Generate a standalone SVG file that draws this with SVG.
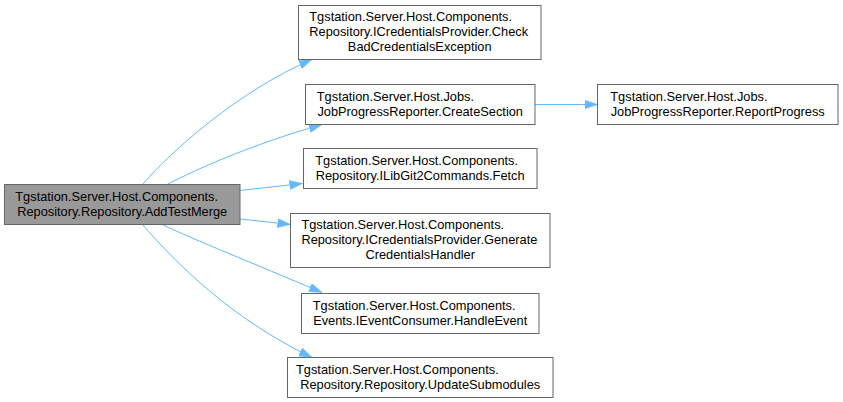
<svg xmlns="http://www.w3.org/2000/svg" width="843" height="402" viewBox="0 0 843 402">
  <style>
    .node rect { fill: #ffffff; stroke: #666666; stroke-width: 1; }
    .node.root rect { fill: #999999; }
    .node text { font-family: "Liberation Sans", Arial, Helvetica, sans-serif; font-size: 12.8px; fill: #000000; }
    .l { text-anchor: start; }
    .c { text-anchor: middle; }
    .edge path { fill: none; stroke: #63b8ff; stroke-width: 1; }
  </style>
  <defs>
    <marker id="arrow" markerUnits="userSpaceOnUse" markerWidth="14" markerHeight="10" refX="13" refY="4.5" orient="auto">
      <path d="M0,0 L13,4.5 L0,9 Z" fill="#63b8ff" stroke="#63b8ff" stroke-width="0.5"/>
    </marker>
  </defs>

  <rect width="843" height="402" fill="#ffffff"/>

  <!-- connectors -->
  <g id="edges" class="edge">
    <path d="M143,184 C170,152 240,90 312,59.5" marker-end="url(#arrow)"/>
    <path d="M168,184 C195,170 250,145 322,124.5" marker-end="url(#arrow)"/>
    <path d="M240,190.5 L302.5,183.5" marker-end="url(#arrow)"/>
    <path d="M240,219 L290.5,224.5" marker-end="url(#arrow)"/>
    <path d="M163,225 C195,240 250,262 322,292.5" marker-end="url(#arrow)"/>
    <path d="M142,224 C175,262 230,318 312,357.5" marker-end="url(#arrow)"/>
    <path d="M535,104.5 L597.5,104.5" marker-end="url(#arrow)"/>
  </g>

  <!-- AddTestMerge (root) -->
  <g id="node-addtestmerge" class="node root">
    <rect x="4.5" y="184.5" width="235.5" height="40"/>
    <text class="l" x="15.3" y="200.8">Tgstation.Server.Host.Components.</text>
    <text class="c" x="122.2" y="215.8">Repository.Repository.AddTestMerge</text>
  </g>

  <!-- ICredentialsProvider.CheckBadCredentialsException -->
  <g id="node-checkbadcredentials" class="node">
    <rect x="298.5" y="5.5" width="242.5" height="54"/>
    <text class="l" x="309.3" y="21">Tgstation.Server.Host.Components.</text>
    <text class="l" x="309.3" y="36">Repository.ICredentialsProvider.Check</text>
    <text class="c" x="419.7" y="51">BadCredentialsException</text>
  </g>

  <!-- JobProgressReporter.CreateSection -->
  <g id="node-createsection" class="node">
    <rect x="305.5" y="84.5" width="229.5" height="40"/>
    <text class="l" x="316.8" y="100.8">Tgstation.Server.Host.Jobs.</text>
    <text class="c" x="420.2" y="115.8">JobProgressReporter.CreateSection</text>
  </g>

  <!-- JobProgressReporter.ReportProgress -->
  <g id="node-reportprogress" class="node">
    <rect x="597.5" y="84.5" width="240.5" height="40"/>
    <text class="l" x="610.3" y="100.8">Tgstation.Server.Host.Jobs.</text>
    <text class="c" x="717.7" y="115.8">JobProgressReporter.ReportProgress</text>
  </g>

  <!-- ILibGit2Commands.Fetch -->
  <g id="node-fetch" class="node">
    <rect x="303.5" y="148.5" width="233.5" height="40"/>
    <text class="l" x="315.3" y="164.8">Tgstation.Server.Host.Components.</text>
    <text class="c" x="420.2" y="179.8">Repository.ILibGit2Commands.Fetch</text>
  </g>

  <!-- ICredentialsProvider.GenerateCredentialsHandler -->
  <g id="node-generatecredentials" class="node">
    <rect x="290.5" y="213.5" width="259.5" height="54"/>
    <text class="l" x="301.4" y="229">Tgstation.Server.Host.Components.</text>
    <text class="l" x="301.4" y="244">Repository.ICredentialsProvider.Generate</text>
    <text class="c" x="420.2" y="259">CredentialsHandler</text>
  </g>

  <!-- IEventConsumer.HandleEvent -->
  <g id="node-handleevent" class="node">
    <rect x="301.5" y="293.5" width="237.5" height="40"/>
    <text class="l" x="312.8" y="309.8">Tgstation.Server.Host.Components.</text>
    <text class="c" x="420.2" y="324.8">Events.IEventConsumer.HandleEvent</text>
  </g>

  <!-- Repository.UpdateSubmodules -->
  <g id="node-updatesubmodules" class="node">
    <rect x="287.5" y="357.5" width="265.5" height="40"/>
    <text class="l" x="296" y="373.8">Tgstation.Server.Host.Components.</text>
    <text class="c" x="420.2" y="388.8">Repository.Repository.UpdateSubmodules</text>
  </g>
</svg>
